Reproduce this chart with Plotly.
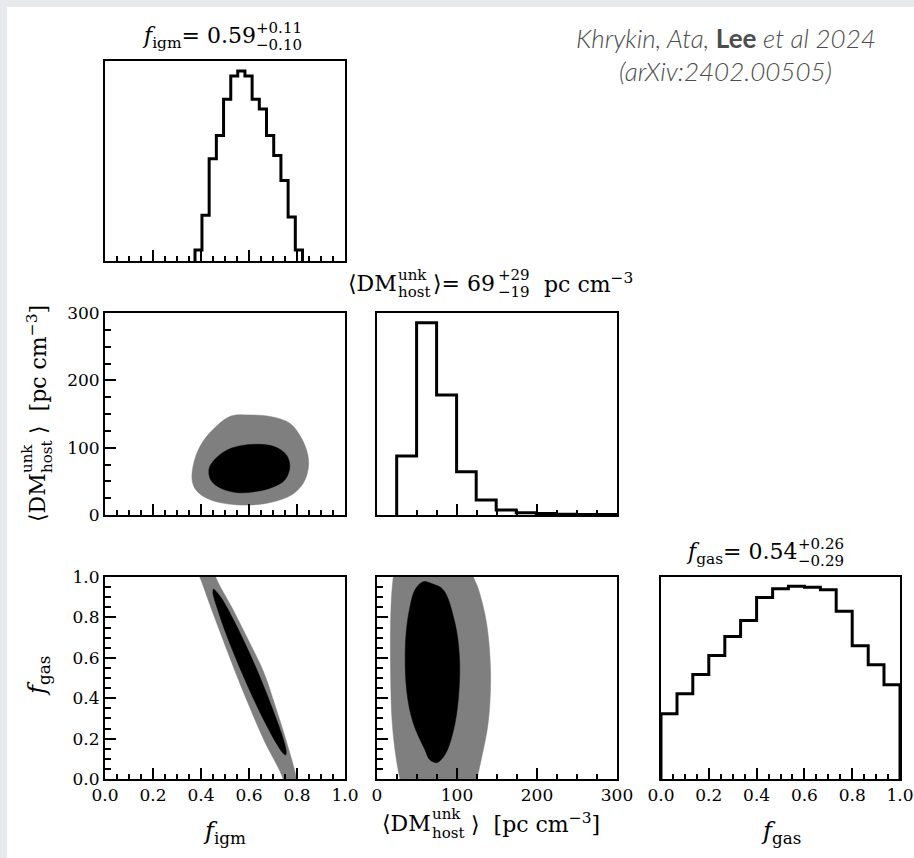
import plotly.graph_objects as go

W, H = 914, 858
SERIF = "DejaVu Serif"

# ---- marginal histograms (bin edges, normalised counts) ----
figm_edges = [0.375, 0.404, 0.434, 0.464, 0.494, 0.524, 0.553, 0.583, 0.613, 0.643, 0.673,
              0.703, 0.733, 0.763, 0.793, 0.823]
figm_counts = [0.055, 0.229, 0.511, 0.627, 0.809, 0.925, 0.950, 0.925, 0.809, 0.760,
               0.627, 0.527, 0.403, 0.220, 0.055]

dm_edges = [24.6, 49.5, 74.5, 99.5, 124.0, 149.0, 174.0, 199.0, 224.0, 249.0, 274.0, 299.0]
dm_counts = [0.292, 0.952, 0.594, 0.214, 0.074, 0.025, 0.011, 0.007, 0.004, 0.003, 0.002]

fgas_edges = [0.0, 0.067, 0.133, 0.2, 0.267, 0.333, 0.4, 0.467, 0.533, 0.6, 0.667,
              0.733, 0.8, 0.867, 0.933, 1.0]
fgas_counts = [0.323, 0.422, 0.517, 0.611, 0.706, 0.785, 0.899, 0.942, 0.954, 0.949,
               0.937, 0.830, 0.660, 0.566, 0.467]

# ---- 2D credible regions (outer = 95%, inner = 68%) ----
# f_igm vs <DM_host>
igm_dm_outer_x = [0.455, 0.399, 0.368, 0.364, 0.385, 0.441, 0.525, 0.609, 0.693, 0.777,
                  0.826, 0.847, 0.845, 0.819, 0.770, 0.693, 0.609, 0.525]
igm_dm_outer_y = [128.8, 104.0, 74.3, 49.5, 34.6, 22.3, 15.9, 14.9, 18.9, 29.7,
                  47.1, 69.4, 89.1, 113.9, 136.2, 146.0, 148.5, 147.0]
igm_dm_inner_x = [0.623, 0.707, 0.756, 0.770, 0.749, 0.693, 0.623, 0.553, 0.483, 0.441,
                  0.434, 0.469, 0.525]
igm_dm_inner_y = [105.0, 101.4, 89.1, 71.8, 52.0, 40.6, 34.6, 33.2, 39.6, 52.0,
                  69.4, 86.6, 99.0]

# f_igm vs f_gas
igm_gas_outer_x = [0.370, 0.395, 0.445, 0.492, 0.543, 0.599, 0.662, 0.742, 0.748, 0.772,
                   0.800, 0.798, 0.754, 0.708, 0.661, 0.597, 0.534, 0.461, 0.445, 0.405]
igm_gas_outer_y = [1.07, 1.0, 0.837, 0.688, 0.530, 0.366, 0.193, 0.0, -0.06, -0.10,
                   -0.05, 0.0, 0.193, 0.366, 0.530, 0.688, 0.837, 1.0, 1.07, 1.11]
igm_gas_inner_x = [0.753, 0.755, 0.747, 0.702, 0.631, 0.552, 0.487, 0.465, 0.452, 0.450,
                   0.459, 0.503, 0.575, 0.654, 0.719, 0.741]
igm_gas_inner_y = [0.119, 0.137, 0.181, 0.335, 0.546, 0.749, 0.892, 0.926, 0.941, 0.918,
                   0.878, 0.724, 0.513, 0.310, 0.167, 0.129]

# <DM_host> vs f_gas
dm_gas_outer_x = [24.0, 20.4, 17.5, 17.0, 19.0, 23.7, 28.7, 33.0, 70.0, 120.0,
                  124.6, 131.0, 139.0, 142.0, 137.0, 126.7, 120.4, 114.0, 70.0]
dm_gas_outer_y = [1.08, 1.0, 0.85, 0.52, 0.28, 0.11, 0.0, -0.06, -0.12, -0.06,
                  0.0, 0.11, 0.28, 0.52, 0.77, 0.94, 1.0, 1.06, 1.13]
dm_gas_inner_x = [57.9, 70.0, 83.0, 97.5, 103.0, 102.5, 97.5, 88.0, 80.0, 74.6,
                  66.0, 60.0, 45.4, 37.0, 35.8, 41.25, 48.0]
dm_gas_inner_y = [0.977, 0.965, 0.936, 0.771, 0.606, 0.441, 0.276, 0.144, 0.095, 0.081,
                  0.095, 0.144, 0.276, 0.441, 0.688, 0.853, 0.94]

# ---- panel geometry (pixels in the page) ----
COLS = [(105, 345), (377, 617), (661, 900)]
ROWS = [(61, 261), (313, 515), (577, 779)]


def xdom(c):
    return [COLS[c][0] / W, COLS[c][1] / W]


def ydom(r):
    return [1 - ROWS[r][1] / H, 1 - ROWS[r][0] / H]


def step_path(edges, counts):
    xs, ys = [edges[0]], [0]
    for i, c in enumerate(counts):
        xs += [edges[i], edges[i + 1]]
        ys += [c, c]
    xs.append(edges[-1])
    ys.append(0)
    return xs, ys


def closed(xs, ys):
    return list(xs) + [xs[0]], list(ys) + [ys[0]]


fig = go.Figure()

# histograms
for (edges, counts, ax) in [(figm_edges, figm_counts, 1), (dm_edges, dm_counts, 3),
                            (fgas_edges, fgas_counts, 6)]:
    sx, sy = step_path(edges, counts)
    fig.add_trace(go.Scatter(x=sx, y=sy, mode="lines", xaxis=f"x{ax}", yaxis=f"y{ax}",
                             line=dict(color="black", width=3), hoverinfo="skip"))

# filled credible regions
for (ox, oy, ix, iy, ax) in [
    (igm_dm_outer_x, igm_dm_outer_y, igm_dm_inner_x, igm_dm_inner_y, 2),
    (igm_gas_outer_x, igm_gas_outer_y, igm_gas_inner_x, igm_gas_inner_y, 4),
    (dm_gas_outer_x, dm_gas_outer_y, dm_gas_inner_x, dm_gas_inner_y, 5),
]:
    for xs, ys, col in [(ox, oy, "#7f7f7f"), (ix, iy, "#000000")]:
        cx, cy = closed(xs, ys)
        fig.add_trace(go.Scatter(x=cx, y=cy, mode="lines", fill="toself", fillcolor=col,
                                 line=dict(color=col, width=0.5, shape="spline"),
                                 xaxis=f"x{ax}", yaxis=f"y{ax}", hoverinfo="skip"))


def axis(domain, anchor, rng, dtick=None, minor=None, ticks=True, labels=False, fmt=None):
    d = dict(domain=domain, anchor=anchor, range=rng, showgrid=False, zeroline=False,
             showline=True, linecolor="black", linewidth=2, mirror=True,
             automargin=False, fixedrange=True, showticklabels=labels,
             tickfont=dict(family=SERIF, size=17, color="black"))
    if ticks:
        d.update(ticks="inside", tick0=0, dtick=dtick, ticklen=11, tickwidth=1.5,
                 tickcolor="black",
                 minor=dict(ticks="inside", dtick=minor, tick0=0, ticklen=5.5,
                            tickwidth=1.5, tickcolor="black", showgrid=False))
    else:
        d.update(ticks="")
    if fmt:
        d["tickformat"] = fmt
    return d


F_RNG = [0, 1]
DM_RNG = [0, 300]

fig.update_layout(
    # top: f_igm histogram
    xaxis=axis(xdom(0), "y", F_RNG, 0.2, 0.05),
    yaxis=axis(ydom(0), "x", [0, 1], ticks=False),
    # middle-left: f_igm vs DM
    xaxis2=axis(xdom(0), "y2", F_RNG, 0.2, 0.05),
    yaxis2=axis(ydom(1), "x2", DM_RNG, 100, 25, labels=True),
    # middle: DM histogram
    xaxis3=axis(xdom(1), "y3", DM_RNG, 100, 25),
    yaxis3=axis(ydom(1), "x3", [0, 1], ticks=False),
    # bottom-left: f_igm vs f_gas
    xaxis4=axis(xdom(0), "y4", F_RNG, 0.2, 0.05, labels=True, fmt=".1f"),
    yaxis4=axis(ydom(2), "x4", F_RNG, 0.2, 0.05, labels=True, fmt=".1f"),
    # bottom-middle: DM vs f_gas
    xaxis5=axis(xdom(1), "y5", DM_RNG, 100, 25, labels=True),
    yaxis5=axis(ydom(2), "x5", F_RNG, 0.2, 0.05),
    # bottom-right: f_gas histogram
    xaxis6=axis(xdom(2), "y6", F_RNG, 0.2, 0.05, labels=True, fmt=".1f"),
    yaxis6=axis(ydom(2), "x6", [0, 1], ticks=False),
)


def ann(text, x, y, size, xanchor="center", yanchor="middle", angle=0,
        family=SERIF, color="black", weight=None):
    font = dict(family=family, size=size, color=color)
    if weight:
        font["weight"] = weight
    return dict(text=text, x=x / W, y=1 - y / H, xref="paper", yref="paper",
                xanchor=xanchor, yanchor=yanchor, showarrow=False, textangle=angle,
                font=font, borderpad=0)


MAIN, SCR, LAB = 22, 15, 22
anns = [
    # panel titles
    ann("<i>f</i><sub>igm</sub>= 0.59", 257, 37, MAIN, "right"),
    ann("+0.11", 255, 28, SCR, "left"),
    ann("−0.10", 255, 45, SCR, "left"),

    ann("⟨DM", 398, 283, MAIN, "right"),
    ann("unk", 397, 275, SCR, "left"),
    ann("host", 397, 292, SCR, "left"),
    ann("⟩= 69", 432, 283, MAIN, "left"),
    ann("+29", 497, 275, SCR, "left"),
    ann("−19", 497, 292, SCR, "left"),
    ann("pc cm<sup>−3</sup>", 543, 283, MAIN, "left"),

    ann("<i>f</i><sub>gas</sub>= 0.54", 799, 553, MAIN, "right"),
    ann("+0.26", 797, 544, SCR, "left"),
    ann("−0.29", 797, 561, SCR, "left"),

    # axis labels
    ann("<i>f</i><sub>igm</sub>", 224, 832, 24),
    ann("<i>f</i><sub>gas</sub>", 781, 832, 24),
    ann("⟨DM", 432, 823, LAB, "right"),
    ann("unk", 431, 814, 15, "left"),
    ann("host", 431, 833, 15, "left"),
    ann("⟩  [pc cm<sup>−3</sup>]", 470, 823, LAB, "left"),

    ann("<i>f</i><sub>gas</sub>", 38, 676, 24, angle=-90),
    ann("⟨DM", 37, 498, LAB, angle=-90),
    ann("unk", 27, 459, 15, angle=-90),
    ann("host", 47, 457, 15, angle=-90),
    ann("⟩  [pc cm<sup>−3</sup>]", 37, 370, LAB, angle=-90),

    # credit
    ann("<i>Khrykin, Ata, </i><b>Lee</b><i> et al 2024</i>", 726, 38, 26,
        family="Lato", color="#4d4d4d", weight=300),
    ann("<i>(arXiv:2402.00505)</i>", 725, 71, 26, family="Lato", color="#4d4d4d",
        weight=300),
]

fig.update_layout(
    width=W, height=H, margin=dict(l=0, r=0, t=0, b=0, autoexpand=False),
    paper_bgcolor="#e7e9ec", plot_bgcolor="white", showlegend=False,
    annotations=anns,
    shapes=[dict(type="rect", xref="paper", yref="paper", x0=7 / W, x1=1, y0=0,
                 y1=1 - 7 / H, fillcolor="white", line=dict(width=0), layer="below")],
)

fig.write_html("out.html")
